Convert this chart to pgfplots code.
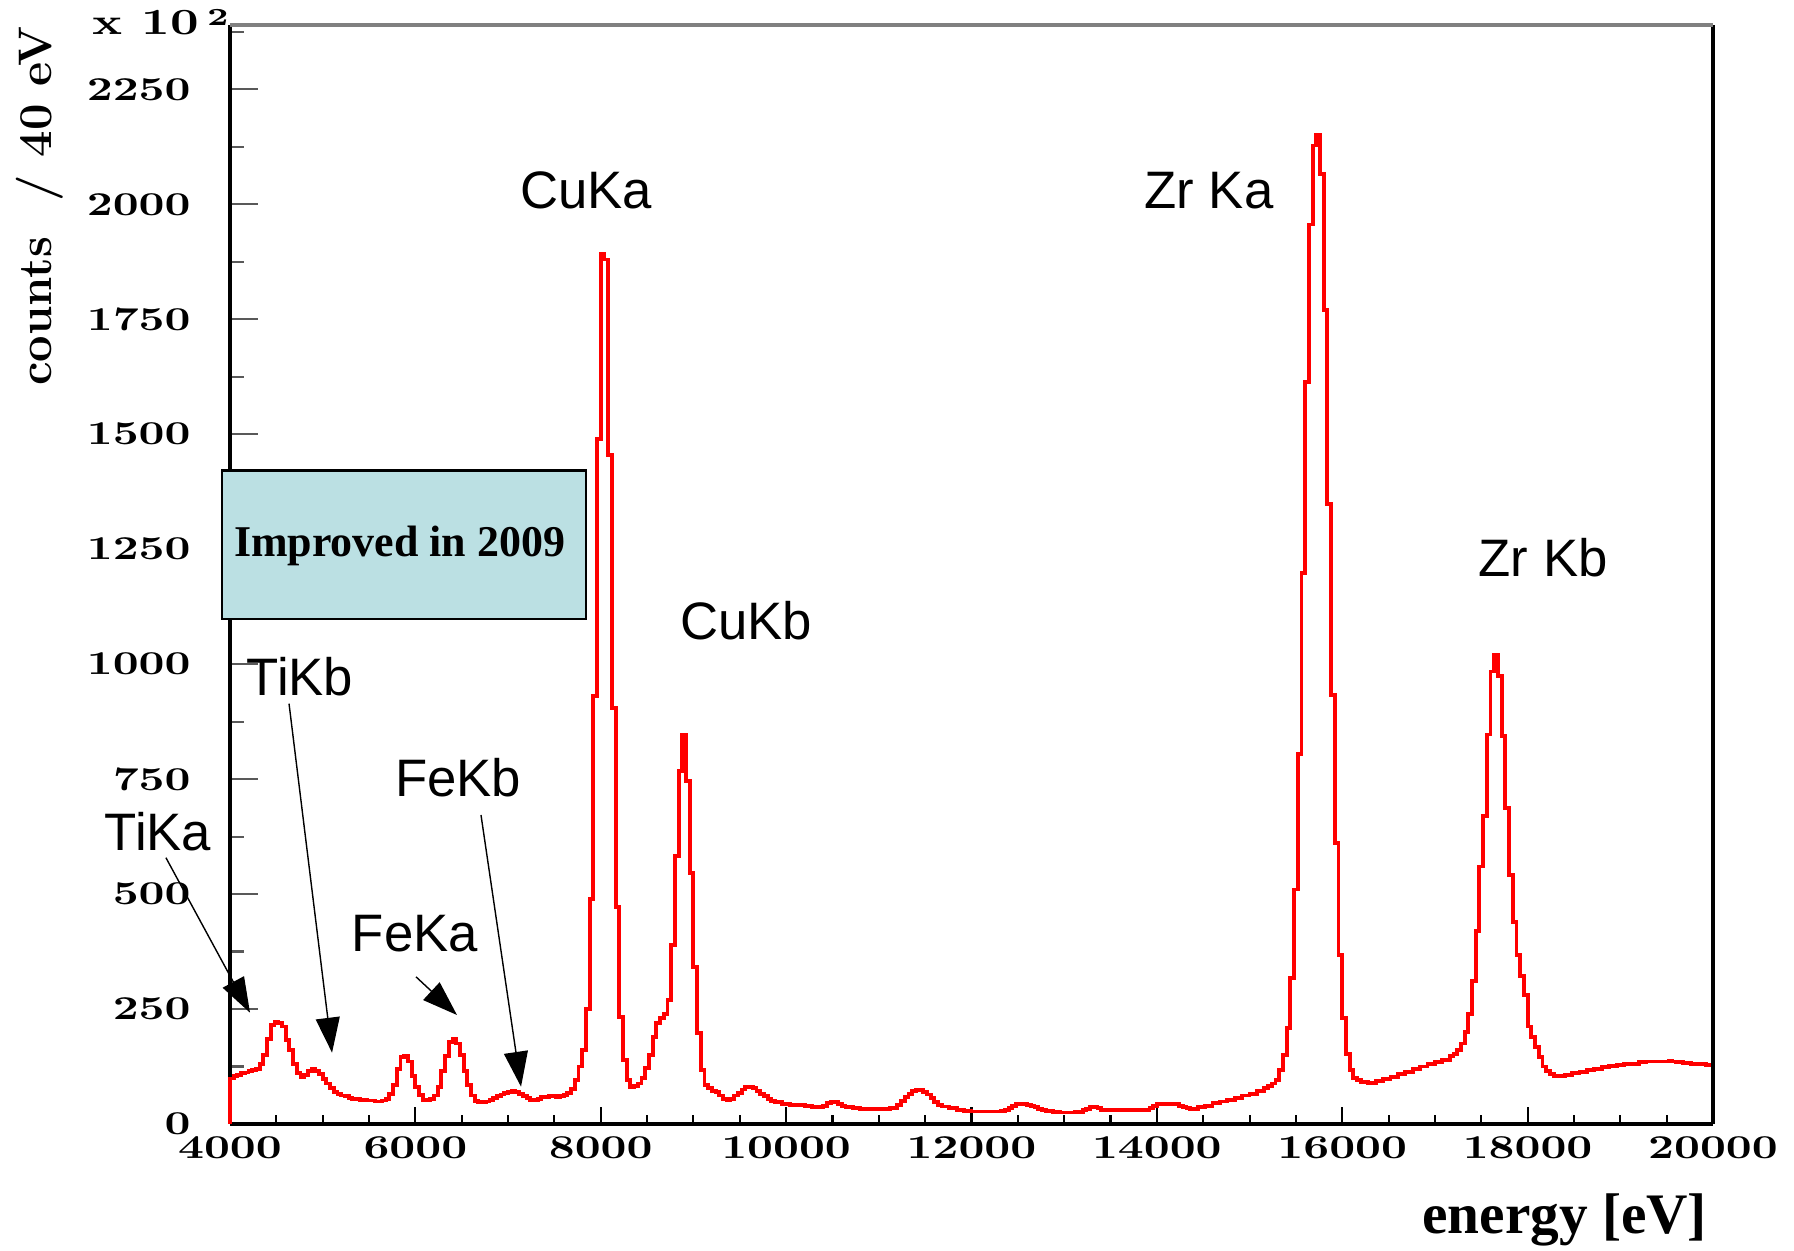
\documentclass[border=0pt]{standalone}
\usepackage{fontspec}
\usepackage{graphicx}
\usepackage{pgfplots}
\pgfplotsset{compat=1.18}
\usetikzlibrary{arrows.meta}
\newfontfamily\lsans{Liberation Sans}
\newfontfamily\lserif{Liberation Serif}
\definecolor{boxblue}{RGB}{187,224,227}
% wide bold tick digits, as in the ROOT plot
\newcommand\tl[1]{\scalebox{1.35}[1]{\fontsize{9.5}{10}\selectfont\bfseries #1}}

\begin{document}
\begin{tikzpicture}
\begin{axis}[
    at={(0,0)}, anchor=south west,
    scale only axis,
    width=148.3mm, height=109.9mm,
    xmin=4000, xmax=20000, ymin=0, ymax=2390,
    axis x line*=bottom, axis y line*=left,
    axis line style={line width=0.9pt, black, -},
    scaled x ticks=false, scaled y ticks=false,
    xtick={4000,6000,...,20000},
    xticklabels={\tl{4000},\tl{6000},\tl{8000},\tl{10000},\tl{12000},\tl{14000},\tl{16000},\tl{18000},\tl{20000}},
    minor xtick={4500,5000,5500,6500,7000,7500,8500,9000,9500,10500,11000,11500,12500,13000,13500,14500,15000,15500,16500,17000,17500,18500,19000,19500},
    ytick={0,250,...,2250},
    yticklabels={\tl{0},\tl{250},\tl{500},\tl{750},\tl{1000},\tl{1250},\tl{1500},\tl{1750},\tl{2000},\tl{2250}},
    minor ytick={125,375,...,2375},
    tick align=inside,
    xtick style={black, line width=0.6pt, /pgfplots/major tick length=1.7mm, /pgfplots/minor tick length=0.9mm},
    ytick style={black!65, line width=0.6pt, /pgfplots/major tick length=2.8mm, /pgfplots/minor tick length=1.4mm},
    yticklabel style={xshift=-2.7mm},
    ylabel={counts\ \ / 40 eV},
    ylabel style={at={(rel axis cs:-0.128,0.835)}, anchor=center, font=\fontsize{13.4}{15}\selectfont\bfseries},
    xlabel={energy [eV]},
    xlabel style={at={(rel axis cs:0.900,-0.0874)}, anchor=center, font=\lserif\bfseries\fontsize{16.3}{18}\selectfont},
    clip=false,
]
\addplot[red, line width=1.1pt, const plot mark left] table {
E c
4000 0
4000 99
4040 104
4080 107
4120 110
4160 112
4200 115
4240 117
4280 120
4320 130
4360 150
4400 185
4440 215
4480 222
4520 220
4560 212
4600 183
4640 160
4680 130
4720 110
4760 102
4800 106
4840 116
4880 119
4920 116
4960 108
5000 98
5040 88
5080 78
5120 70
5160 65
5200 62
5240 60
5280 57
5320 55
5400 53
5480 51
5560 49
5640 51
5680 55
5720 65
5760 85
5800 120
5840 145
5880 148
5920 136
5960 105
6000 80
6040 63
6080 53
6120 52
6160 55
6200 62
6240 80
6280 115
6320 148
6360 178
6400 184
6440 175
6480 150
6520 115
6560 85
6600 62
6640 50
6680 48
6760 49
6800 52
6840 56
6880 60
6920 64
6960 67
7000 69
7040 71
7080 69
7120 65
7160 60
7200 56
7240 53
7280 52
7320 55
7360 58
7440 60
7480 61
7520 59
7560 60
7600 63
7640 68
7680 77
7720 95
7760 125
7800 160
7840 250
7880 490
7920 930
7960 1490
8000 1893
8040 1880
8080 1455
8120 905
8160 472
8200 233
8240 140
8280 95
8320 80
8360 82
8400 88
8440 100
8480 122
8520 150
8560 190
8600 219
8640 230
8680 240
8720 270
8760 390
8800 582
8840 767
8880 847
8920 745
8960 546
9000 342
9040 197
9080 117
9120 85
9160 78
9200 72
9240 70
9280 62
9320 55
9360 52
9400 55
9440 62
9480 68
9520 75
9560 80
9600 81
9640 78
9680 72
9720 66
9760 60
9800 54
9840 50
9880 47
9960 44
10040 42
10120 41
10200 40
10280 37
10320 36
10400 40
10440 45
10480 48
10520 48
10560 44
10600 40
10640 36
10720 34
10800 33
10880 32
10960 32
11040 33
11120 35
11200 42
11240 50
11280 58
11320 66
11360 72
11400 75
11440 74
11480 70
11520 64
11560 56
11600 48
11640 42
11680 38
11760 34
11840 31
11920 28
12000 27
12320 28
12360 30
12400 35
12440 40
12480 43
12520 44
12560 43
12600 42
12640 40
12680 37
12720 33
12760 30
12800 28
12880 26
12960 25
13040 25
13120 26
13200 30
13240 33
13280 36
13320 37
13360 34
13400 31
13440 30
13880 30
13920 35
13960 40
14000 43
14040 44
14200 43
14240 40
14280 36
14320 34
14360 33
14440 36
14520 40
14600 45
14680 49
14760 53
14840 57
14920 62
15000 66
15080 71
15160 78
15200 82
15240 88
15280 95
15320 118
15360 150
15400 208
15440 317
15480 510
15520 804
15560 1198
15600 1613
15640 1956
15680 2128
15720 2150
15760 2066
15800 1770
15840 1348
15880 933
15920 611
15960 367
16000 231
16040 152
16080 117
16120 100
16160 95
16200 92
16280 90
16360 93
16440 98
16520 103
16600 108
16680 113
16760 120
16840 125
16920 130
17000 135
17080 140
17160 148
17200 152
17240 160
17280 175
17320 200
17360 240
17400 310
17440 420
17480 560
17520 669
17560 847
17600 984
17640 1021
17680 975
17720 843
17760 687
17800 542
17840 440
17880 368
17920 321
17960 281
18000 212
18040 190
18080 168
18120 145
18160 125
18200 115
18240 108
18280 105
18320 104
18400 106
18480 110
18560 113
18640 117
18720 120
18800 123
18880 127
18960 129
19040 130
19120 131
19200 135
19280 136
19440 136
19520 137
19560 136
19600 134
19680 132
19760 131
19840 130
19920 128
19960 128
20000 128
20000 0
};
% frame: right black, top grey
\draw[black, line width=0.9pt] (rel axis cs:1,0) -- (rel axis cs:1,1);
\draw[black!50, line width=0.9pt] (rel axis cs:0,1) -- (rel axis cs:1,1);
% exponent
\node[anchor=center] at (rel axis cs:-0.047,1.003) {\tl{\fontsize{10.5}{11}\selectfont x 10\,\raisebox{0.55ex}{\fontsize{7}{8}\selectfont 2}}};
% peak names
\begin{scope}[font=\lsans\fontsize{15}{18}\selectfont]
\node at (axis cs:7841,2030) {CuKa};
\node at (axis cs:14563,2030) {Zr Ka};
\node at (axis cs:9568,1095) {CuKb};
\node at (axis cs:18168,1232) {Zr Kb};
\node at (axis cs:4755,973) {TiKb};
\node at (axis cs:6460,753) {FeKb};
\node at (axis cs:3223,635) {TiKa};
\node at (axis cs:5996,414) {FeKa};
\end{scope}
\begin{scope}[line width=0.4pt, -{Triangle[length=3.5mm,width=2.4mm]}]
\draw (axis cs:3309,579) -- (axis cs:4216,242);
\draw (axis cs:4637,914) -- (axis cs:5101,155);
\draw (axis cs:6007,320) -- (axis cs:6449,237);
\draw (axis cs:6708,672) -- (axis cs:7140,81);
\end{scope}
\coordinate (bxa) at (axis cs:3914,1099);
\coordinate (bxb) at (axis cs:7841,1421);
\coordinate (bxc) at (axis cs:5830,1258);
\end{axis}
\draw[line width=0.6pt, fill=boxblue] (bxa) rectangle (bxb);
\node[font=\lserif\bfseries\fontsize{12.5}{14}\selectfont] at (bxc) {Improved in 2009};
\pgfresetboundingbox
\path[use as bounding box] (-23mm,-12.7mm) rectangle (156.4mm,112.4mm);
\end{tikzpicture}
\end{document}
